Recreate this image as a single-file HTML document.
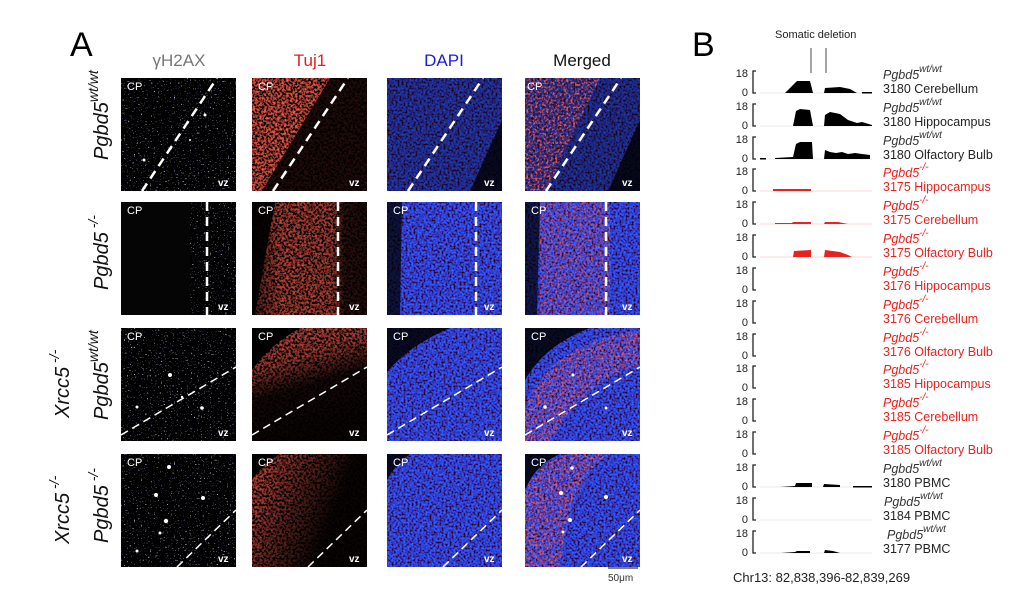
<!DOCTYPE html>
<html><head><meta charset="utf-8"><style>
html,body{margin:0;padding:0;background:#fff;}
svg{display:block;font-family:"Liberation Sans",Arial,sans-serif;}
</style></head><body>
<svg width="1024" height="614" viewBox="0 0 1024 614" xmlns="http://www.w3.org/2000/svg">
<defs>
<filter id="fb" x="0" y="0" width="100%" height="100%">
<feTurbulence type="fractalNoise" baseFrequency="0.5" numOctaves="2" seed="3"/>
<feColorMatrix type="matrix" values="0 0 0 0 0.03  0.3 0 0 0 -0.1  2.8 0 0 0 -0.8  0 0 0 0 1"/>
</filter>
<filter id="fr" x="0" y="0" width="100%" height="100%">
<feTurbulence type="fractalNoise" baseFrequency="0.45" numOctaves="2" seed="7"/>
<feColorMatrix type="matrix" values="2.8 0 0 0 -1.15  0.3 0 0 0 -0.12  0.2 0 0 0 -0.08  0 0 0 0 1"/>
</filter>
<filter id="frA" x="0" y="0" width="100%" height="100%">
<feTurbulence type="fractalNoise" baseFrequency="0.45" numOctaves="2" seed="9"/>
<feColorMatrix type="matrix" values="0 0 0 0 0.85  0 0 0 0 0.1  0 0 0 0 0.1  3.5 0 0 0 -1.6"/>
</filter>
<filter id="fg" x="0" y="0" width="100%" height="100%">
<feTurbulence type="fractalNoise" baseFrequency="0.7" numOctaves="1" seed="11"/>
<feColorMatrix type="matrix" values="5 0 0 0 -3.4  5 0 0 0 -3.4  5 0 0 0 -3.35  0 0 0 0 1"/>
</filter>
<clipPath id="c1"><polygon points="525,78 600,78 546,191 525,191"/></clipPath>
<clipPath id="c2"><rect x="540" y="202" width="70" height="113"/></clipPath>
<clipPath id="c3"><path d="M525,410 Q545,345 640,330 L640,365 Q585,378 550,441 L525,441 Z"/></clipPath>
<clipPath id="c4"><path d="M525,490 Q540,460 570,454 L610,454 Q570,475 560,567 L525,567 Z"/></clipPath>
<linearGradient id="redM" x1="0" y1="0" x2="1" y2="0"><stop offset="0" stop-color="#000" stop-opacity="0.7"/><stop offset="0.25" stop-color="#000" stop-opacity="0.2"/><stop offset="0.7" stop-color="#000" stop-opacity="0.25"/><stop offset="0.8" stop-color="#000" stop-opacity="0.8"/><stop offset="1" stop-color="#000" stop-opacity="0.85"/></linearGradient>
<linearGradient id="redT" x1="0" y1="0" x2="0.3" y2="1"><stop offset="0" stop-color="#000" stop-opacity="0.1"/><stop offset="0.35" stop-color="#000" stop-opacity="0.3"/><stop offset="0.6" stop-color="#000" stop-opacity="0.9"/><stop offset="1" stop-color="#000" stop-opacity="0.95"/></linearGradient>
<linearGradient id="redT4" x1="0" y1="0" x2="1" y2="0.4"><stop offset="0" stop-color="#000" stop-opacity="0.05"/><stop offset="0.4" stop-color="#000" stop-opacity="0.5"/><stop offset="0.8" stop-color="#000" stop-opacity="0.95"/></linearGradient>
</defs>

<text x="70" y="56" font-size="34">A</text>
<text x="692" y="56" font-size="34">B</text>
<g font-size="17" text-anchor="middle">
<text x="179" y="66" fill="#777">γH2AX</text>
<text x="310" y="66" fill="#e3201b">Tuj1</text>
<text x="444" y="66" fill="#1a1ae6">DAPI</text>
<text x="582" y="66" fill="#111">Merged</text>
</g>

<g font-size="20" font-style="italic" fill="#111">
<text transform="translate(108,160) rotate(-90)">Pgbd5<tspan dy="-10" font-size="14">wt/wt</tspan></text>
<text transform="translate(108,290) rotate(-90)">Pgbd5<tspan dy="-10" font-size="14"> -/-</tspan></text>
<text transform="translate(69,418) rotate(-90)">Xrcc5<tspan dy="-10" font-size="14"> -/-</tspan></text>
<text transform="translate(108,420) rotate(-90)">Pgbd5<tspan dy="-10" font-size="14">wt/wt</tspan></text>
<text transform="translate(69,544) rotate(-90)">Xrcc5<tspan dy="-10" font-size="14"> -/-</tspan></text>
<text transform="translate(108,543) rotate(-90)">Pgbd5<tspan dy="-10" font-size="14"> -/-</tspan></text>
</g>

<g id="r1">
<rect x="121" y="78" width="115" height="113" filter="url(#fg)"/>
<rect x="252" y="78" width="115" height="113" filter="url(#fr)"/>
<polygon points="330,78 367,78 367,191 262,191" fill="#000" opacity="0.85"/>
<rect x="387" y="78" width="115" height="113" filter="url(#fb)"/>
<rect x="387" y="78" width="115" height="113" fill="#000" opacity="0.35"/>
<polygon points="502,120 502,191 470,191" fill="#000" opacity="0.8"/>
<rect x="525" y="78" width="115" height="113" filter="url(#fb)"/>
<rect x="525" y="78" width="115" height="113" fill="#000" opacity="0.4"/>
<g clip-path="url(#c1)"><rect x="525" y="78" width="115" height="113" filter="url(#frA)"/></g>
<polygon points="640,120 640,191 608,191" fill="#000" opacity="0.8"/>
</g>
<g id="r2">
<rect x="121" y="202" width="115" height="113" fill="#050505"/>
<rect x="190" y="202" width="46" height="113" filter="url(#fg)"/>
<rect x="252" y="202" width="115" height="113" filter="url(#fr)"/>
<rect x="252" y="202" width="115" height="113" fill="url(#redM)"/>
<polygon points="252,202 275,202 255,315 252,315" fill="#000" opacity="0.9"/>
<rect x="387" y="202" width="115" height="113" filter="url(#fb)"/>
<polygon points="387,202 402,202 400,315 387,315" fill="#000" opacity="0.75"/>
<rect x="525" y="202" width="115" height="113" filter="url(#fb)"/>
<g clip-path="url(#c2)"><rect x="525" y="202" width="115" height="113" filter="url(#frA)" opacity="0.8"/></g>
<polygon points="525,202 540,202 537,315 525,315" fill="#000" opacity="0.7"/>
</g>
<g id="r3">
<rect x="121" y="328" width="115" height="113" filter="url(#fg)"/>
<rect x="252" y="328" width="115" height="113" filter="url(#fr)"/>
<rect x="252" y="328" width="115" height="113" fill="url(#redT)"/>
<path d="M252,328 L300,328 Q270,345 252,370 Z" fill="#000"/>
<rect x="387" y="328" width="115" height="113" filter="url(#fb)"/>
<path d="M387,328 L450,328 Q410,345 387,372 Z" fill="#000" opacity="0.85"/>
<rect x="525" y="328" width="115" height="113" filter="url(#fb)"/>
<g clip-path="url(#c3)"><rect x="525" y="328" width="115" height="113" filter="url(#frA)"/></g>
<path d="M525,328 L590,328 Q545,345 525,380 Z" fill="#000" opacity="0.85"/>
</g>
<g id="r4">
<rect x="121" y="454" width="115" height="113" filter="url(#fg)"/>
<rect x="252" y="454" width="115" height="113" filter="url(#fr)"/>
<rect x="252" y="454" width="115" height="113" fill="url(#redT4)"/>
<path d="M252,454 L280,454 Q262,465 252,480 Z" fill="#000"/>
<rect x="387" y="454" width="115" height="113" filter="url(#fb)"/>
<path d="M387,454 L410,454 Q395,465 387,480 Z" fill="#000" opacity="0.85"/>
<rect x="525" y="454" width="115" height="113" filter="url(#fb)"/>
<g clip-path="url(#c4)"><rect x="525" y="454" width="115" height="113" filter="url(#frA)"/></g>
<path d="M525,454 L560,454 Q535,465 525,490 Z" fill="#000" opacity="0.85"/>
</g>
<g fill="#fff">
<circle cx="205" cy="115" r="1.5"/><circle cx="144" cy="160" r="1.5"/><circle cx="190" cy="140" r="1"/>
<circle cx="170" cy="375" r="2"/><circle cx="137" cy="407" r="1.5"/><circle cx="202" cy="408" r="1.8"/><circle cx="182" cy="397" r="1.2"/>
<circle cx="169" cy="467" r="2"/><circle cx="156" cy="495" r="2"/><circle cx="166" cy="521" r="2.2"/><circle cx="203" cy="498" r="2"/><circle cx="160" cy="533" r="1.5"/><circle cx="137" cy="551" r="1.5"/>
<circle cx="573" cy="375" r="1.5"/><circle cx="545" cy="407" r="1.8"/><circle cx="606" cy="408" r="1.5"/>
<circle cx="572" cy="468" r="1.8"/><circle cx="561" cy="493" r="2"/><circle cx="570" cy="520" r="2"/><circle cx="606" cy="497" r="2"/><circle cx="563" cy="532" r="1.5"/>
</g>
<g stroke="#fff" fill="none">
<g stroke-width="2.5" stroke-dasharray="9,6">
<line x1="142" y1="191" x2="217" y2="78"/><line x1="273" y1="191" x2="348" y2="78"/>
<line x1="408" y1="191" x2="483" y2="78"/><line x1="546" y1="191" x2="621" y2="78"/>
<line x1="207" y1="202" x2="207" y2="315"/><line x1="338" y1="202" x2="338" y2="315"/>
<line x1="476" y1="202" x2="476" y2="315"/><line x1="606" y1="202" x2="606" y2="315"/>
</g>
<g stroke-width="1.5" stroke-dasharray="8,5">
<line x1="121" y1="435" x2="236" y2="367"/><line x1="252" y1="435" x2="367" y2="367"/>
<line x1="387" y1="435" x2="502" y2="367"/><line x1="525" y1="435" x2="640" y2="367"/>
<line x1="177" y1="567" x2="236" y2="510"/><line x1="308" y1="567" x2="367" y2="510"/>
<line x1="443" y1="567" x2="502" y2="510"/><line x1="581" y1="567" x2="640" y2="510"/>
</g>
</g>
<g fill="#fff" font-size="11">
<text x="127" y="90">CP</text><text x="258" y="90">CP</text><text x="527" y="90">CP</text>
<text x="127" y="214">CP</text><text x="258" y="214">CP</text><text x="393" y="214">CP</text><text x="531" y="214">CP</text>
<text x="127" y="340">CP</text><text x="258" y="340">CP</text><text x="393" y="340">CP</text><text x="531" y="340">CP</text>
<text x="127" y="466">CP</text><text x="258" y="466">CP</text><text x="393" y="466">CP</text><text x="531" y="466">CP</text>
</g>
<g fill="#fff" font-size="10" font-weight="bold">
<text x="218" y="186">vz</text><text x="349" y="186">vz</text><text x="484" y="186">vz</text><text x="622" y="186">vz</text>
<text x="218" y="310">vz</text><text x="349" y="310">vz</text><text x="484" y="310">vz</text><text x="622" y="310">vz</text>
<text x="218" y="436">vz</text><text x="349" y="436">vz</text><text x="484" y="436">vz</text><text x="622" y="436">vz</text>
<text x="218" y="562">vz</text><text x="349" y="562">vz</text><text x="484" y="562">vz</text><text x="622" y="562">vz</text>
</g>
<line x1="608" y1="568" x2="638" y2="568" stroke="#555" stroke-width="1.5"/>
<text x="608" y="581" font-size="10" fill="#333">50μm</text>

<text x="775" y="38" font-size="11" fill="#222">Somatic deletion</text>
<line x1="811" y1="48" x2="811" y2="73" stroke="#666" stroke-width="1.2"/>
<line x1="826" y1="48" x2="826" y2="73" stroke="#666" stroke-width="1.2"/>

<g font-size="11">
<g fill="#222" text-anchor="end">
<text x="748" y="77">18</text><text x="748" y="96">0</text>
<text x="748" y="110">18</text><text x="748" y="129">0</text>
<text x="748" y="143">18</text><text x="748" y="162">0</text>
<text x="748" y="175">18</text><text x="748" y="194">0</text>
<text x="748" y="208">18</text><text x="748" y="227">0</text>
<text x="748" y="241">18</text><text x="748" y="260">0</text>
<text x="748" y="274">18</text><text x="748" y="293">0</text>
<text x="748" y="307">18</text><text x="748" y="326">0</text>
<text x="748" y="340">18</text><text x="748" y="359">0</text>
<text x="748" y="372">18</text><text x="748" y="391">0</text>
<text x="748" y="405">18</text><text x="748" y="424">0</text>
<text x="748" y="438">18</text><text x="748" y="457">0</text>
<text x="748" y="471">18</text><text x="748" y="490">0</text>
<text x="748" y="504">18</text><text x="748" y="523">0</text>
<text x="748" y="537">18</text><text x="748" y="556">0</text>
</g>
<g stroke="#222" stroke-width="1.3" fill="none">
<path d="M756,71 h-3 v22 h3"/><path d="M756,104 h-3 v22 h3"/><path d="M756,137 h-3 v22 h3"/>
<path d="M756,169 h-3 v22 h3"/><path d="M756,202 h-3 v22 h3"/><path d="M756,235 h-3 v22 h3"/>
<path d="M756,268 h-3 v22 h3"/><path d="M756,301 h-3 v22 h3"/><path d="M756,334 h-3 v22 h3"/>
<path d="M756,366 h-3 v22 h3"/><path d="M756,399 h-3 v22 h3"/><path d="M756,432 h-3 v22 h3"/>
<path d="M756,465 h-3 v22 h3"/><path d="M756,498 h-3 v22 h3"/><path d="M756,531 h-3 v22 h3"/>
</g>
<g stroke="#e8e8e8" stroke-width="1">
<line x1="760" y1="93" x2="872" y2="93"/><line x1="760" y1="126" x2="872" y2="126"/><line x1="760" y1="159" x2="872" y2="159"/>
<line x1="760" y1="191" x2="872" y2="191" stroke="#fbdada"/><line x1="760" y1="224" x2="872" y2="224" stroke="#fbdada"/><line x1="760" y1="257" x2="872" y2="257" stroke="#fbdada"/>
<line x1="760" y1="487" x2="872" y2="487"/><line x1="760" y1="520" x2="872" y2="520"/><line x1="760" y1="553" x2="872" y2="553"/>
</g>
<g fill="#000">
<path d="M785,93 L793,85 L797,81 L810,81 L813,93 Z"/><path d="M824,93 L825,88 L840,87 L850,89 L857,93 Z"/><rect x="862" y="92" width="10" height="1.5"/>
<path d="M793,126 L796,111 L800,109 L810,110 L813,126 Z"/><path d="M824,126 L825,115 L830,112 L840,114 L848,120 L857,123 L862,122 L872,125 L872,126 Z"/>
<rect x="760" y="158" width="6" height="1.5"/><path d="M775,159 L775,158 L793,157 L796,144 L800,142 L812,142 L813,159 Z"/><path d="M824,159 L825,150 L830,152 L836,153 L842,152 L848,154 L855,153 L862,154 L870,155 L870,159 Z"/>
<path d="M780,487 L795,486 L796,483 L812,483 L812,487 Z M823,487 L824,484 L840,485 L840,487 Z"/><rect x="853" y="486" width="19" height="1.5"/>
<path d="M781,553 L795,552 L797,551 L810,551 L810,553 Z M824,553 L825,550 L833,551 L840,553 Z"/>
</g>
<g fill="#e8221e">
<rect x="773" y="189" width="38" height="2"/>
<path d="M775,224 L775,223 L792,223 L793,222 L811,222 L811,224 Z M824,224 L825,222 L838,222 L848,224 Z"/>
<path d="M793,257 L794,251 L811,250 L811,257 Z M824,257 L825,250 L840,252 L848,255 L852,257 Z"/>
</g>
<g font-size="12.5">
<g fill="#222">
<text x="883" y="79" font-style="italic" fill="#333">Pgbd5<tspan dy="-7" font-size="10">wt/wt</tspan></text><text x="883" y="93">3180 Cerebellum</text>
<text x="883" y="112" font-style="italic" fill="#333">Pgbd5<tspan dy="-7" font-size="10">wt/wt</tspan></text><text x="883" y="126">3180 Hippocampus</text>
<text x="883" y="145" font-style="italic" fill="#333">Pgbd5<tspan dy="-7" font-size="10">wt/wt</tspan></text><text x="883" y="159">3180 Olfactory Bulb</text>
</g>
<g fill="#e8221e">
<text x="883" y="177" font-style="italic">Pgbd5<tspan dy="-7" font-size="10">-/-</tspan></text><text x="883" y="191">3175 Hippocampus</text>
<text x="883" y="210" font-style="italic">Pgbd5<tspan dy="-7" font-size="10">-/-</tspan></text><text x="883" y="224">3175 Cerebellum</text>
<text x="883" y="243" font-style="italic">Pgbd5<tspan dy="-7" font-size="10">-/-</tspan></text><text x="883" y="257">3175 Olfactory Bulb</text>
<text x="883" y="276" font-style="italic">Pgbd5<tspan dy="-7" font-size="10">-/-</tspan></text><text x="883" y="290">3176 Hippocampus</text>
<text x="883" y="309" font-style="italic">Pgbd5<tspan dy="-7" font-size="10">-/-</tspan></text><text x="883" y="323">3176 Cerebellum</text>
<text x="883" y="342" font-style="italic">Pgbd5<tspan dy="-7" font-size="10">-/-</tspan></text><text x="883" y="356">3176 Olfactory Bulb</text>
<text x="883" y="374" font-style="italic">Pgbd5<tspan dy="-7" font-size="10">-/-</tspan></text><text x="883" y="388">3185 Hippocampus</text>
<text x="883" y="407" font-style="italic">Pgbd5<tspan dy="-7" font-size="10">-/-</tspan></text><text x="883" y="421">3185 Cerebellum</text>
<text x="883" y="440" font-style="italic">Pgbd5<tspan dy="-7" font-size="10">-/-</tspan></text><text x="883" y="454">3185 Olfactory Bulb</text>
</g>
<g fill="#222">
<text x="883" y="473" font-style="italic" fill="#333">Pgbd5<tspan dy="-7" font-size="10">wt/wt</tspan></text><text x="883" y="487">3180 PBMC</text>
<text x="884" y="506" font-style="italic" fill="#333">Pgbd5<tspan dy="-7" font-size="10">wt/wt</tspan></text><text x="883" y="520">3184 PBMC</text>
<text x="887" y="539" font-style="italic" fill="#333">Pgbd5<tspan dy="-7" font-size="10">wt/wt</tspan></text><text x="883" y="553">3177 PBMC</text>
</g>
</g>
</g>
<text x="733" y="582" font-size="13" fill="#222">Chr13: 82,838,396-82,839,269</text>
</svg>
</body></html>
